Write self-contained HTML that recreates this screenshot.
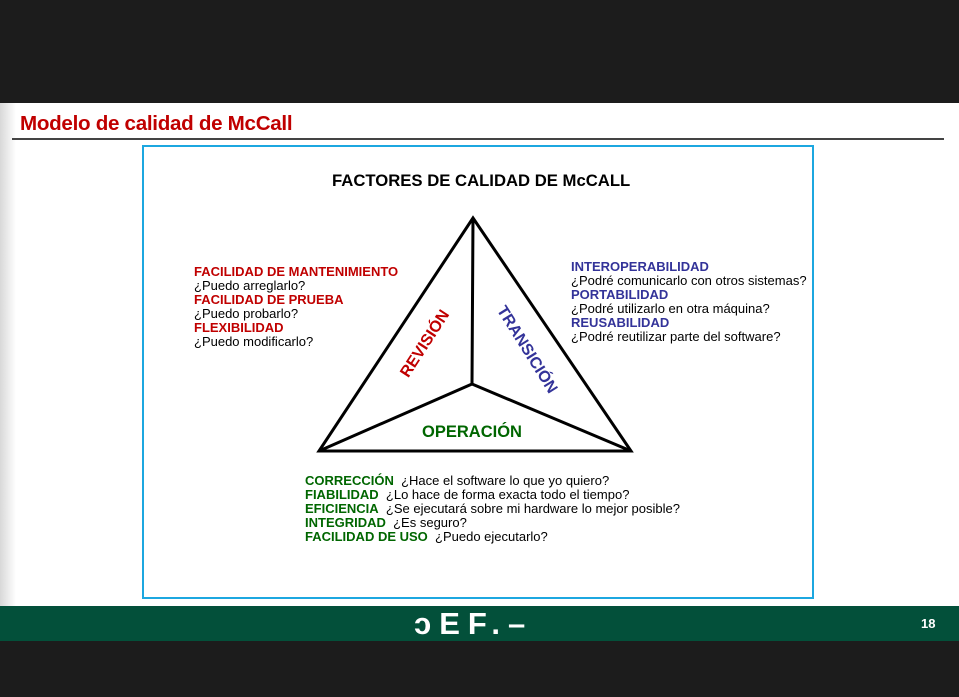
<!DOCTYPE html>
<html><head><meta charset="utf-8"><style>
body{margin:0;width:959px;height:697px;position:relative;overflow:hidden;background:#fff;font-family:"Liberation Sans",sans-serif}
.a{position:absolute;white-space:nowrap}
.t{font-size:13px;line-height:14px;color:#000}
.r{color:#c00000;font-weight:bold}
.b{color:#333399;font-weight:bold}
.g{color:#006600;font-weight:bold}
</style></head><body>
<div class="a" style="left:0;top:0;width:959px;height:103px;background:#1c1c1c"></div>
<div class="a" style="left:0;top:103px;width:16px;height:503px;background:linear-gradient(90deg,#d8d8d8,#fff)"></div>
<div class="a" style="left:20px;top:112px;font-size:20.6px;font-weight:bold;color:#c00000;letter-spacing:-0.3px">Modelo de calidad de McCall</div>
<div class="a" style="left:12px;top:138px;width:932px;height:2px;background:#444"></div>
<div class="a" style="left:142px;top:145px;width:668px;height:450px;border:2px solid #1ca7e0"></div>
<div class="a" style="left:332px;top:171px;font-size:16.7px;font-weight:bold">FACTORES DE CALIDAD DE McCALL</div>
<svg class="a" style="left:0;top:0" width="959" height="697">
<polygon points="473,218 319,451 631,451" fill="none" stroke="#000" stroke-width="3" stroke-linejoin="miter"/>
<polyline points="473,218 472,384 319,451" fill="none" stroke="#000" stroke-width="3"/>
<line x1="472" y1="384" x2="631" y2="451" stroke="#000" stroke-width="3"/>
<text x="424" y="349" transform="rotate(-57 424 343)" text-anchor="middle" font-family="Liberation Sans" font-weight="bold" font-size="16" fill="#c00000">REVISIÓN</text>
<text x="528" y="355" transform="rotate(58 528 349)" text-anchor="middle" font-family="Liberation Sans" font-weight="bold" font-size="16" fill="#333399">TRANSICIÓN</text>
<text x="472" y="437" text-anchor="middle" font-family="Liberation Sans" font-weight="bold" font-size="16.5" fill="#006600">OPERACIÓN</text>
</svg>
<div class="a t" style="left:194px;top:265px">
<span class="r">FACILIDAD DE MANTENIMIENTO</span><br>¿Puedo arreglarlo?<br><span class="r">FACILIDAD DE PRUEBA</span><br>¿Puedo probarlo?<br><span class="r">FLEXIBILIDAD</span><br>¿Puedo modificarlo?</div>
<div class="a t" style="left:571px;top:260px">
<span class="b">INTEROPERABILIDAD</span><br>¿Podré comunicarlo con otros sistemas?<br><span class="b">PORTABILIDAD</span><br>¿Podré utilizarlo en otra máquina?<br><span class="b">REUSABILIDAD</span><br>¿Podré reutilizar parte del software?</div>
<div class="a t" style="left:305px;top:474px">
<span class="g">CORRECCIÓN</span>&nbsp; ¿Hace el software lo que yo quiero?<br><span class="g">FIABILIDAD</span>&nbsp; ¿Lo hace de forma exacta todo el tiempo?<br><span class="g">EFICIENCIA</span>&nbsp; ¿Se ejecutará sobre mi hardware lo mejor posible?<br><span class="g">INTEGRIDAD</span>&nbsp; ¿Es seguro?<br><span class="g">FACILIDAD DE USO</span>&nbsp; ¿Puedo ejecutarlo?</div>
<div class="a" style="left:0;top:606px;width:959px;height:35px;background:#03503a"></div>
<div class="a" style="left:414px;top:606px;font-size:31px;font-weight:bold;color:#fff;letter-spacing:8px">ↄEF.–</div>
<div class="a" style="left:921px;top:616px;font-size:13px;font-weight:bold;color:#fff">18</div>
<div class="a" style="left:0;top:641px;width:959px;height:56px;background:#1c1c1c"></div>
</body></html>
